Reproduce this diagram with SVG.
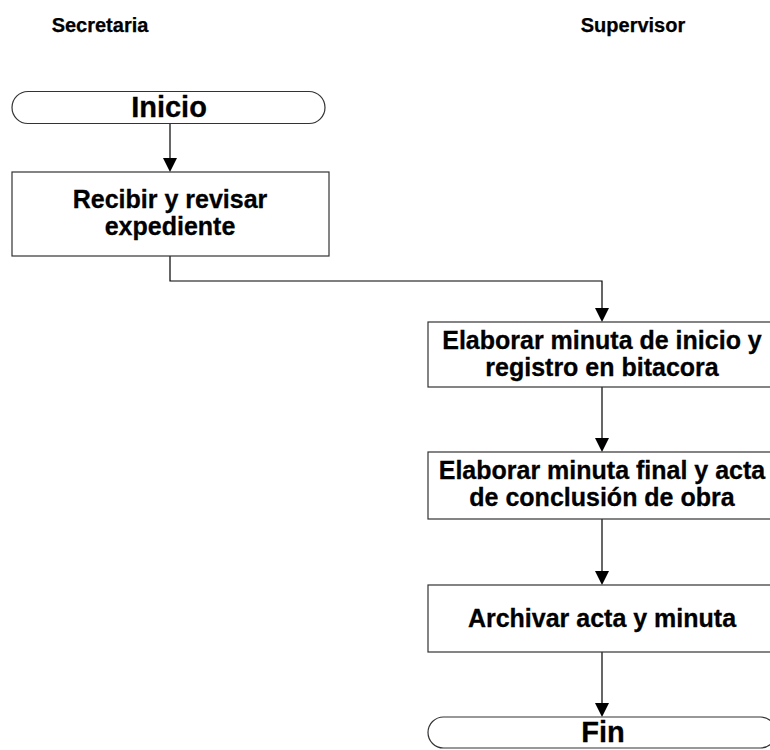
<svg xmlns="http://www.w3.org/2000/svg" width="770" height="750" viewBox="0 0 770 750">
<style>
.box{fill:#fff;stroke:#333;stroke-width:1.2}
.t{font-family:"Liberation Sans",Arial,sans-serif;font-weight:bold;font-size:25px;text-anchor:middle;fill:#000;stroke:#000;stroke-width:0.3}
.tt{font-family:"Liberation Sans",Arial,sans-serif;font-weight:bold;font-size:29px;text-anchor:middle;fill:#000;stroke:#000;stroke-width:0.3}
.h{font-family:"Liberation Sans",Arial,sans-serif;font-weight:bold;font-size:20px;text-anchor:middle;fill:#000;stroke:#000;stroke-width:0.25}
.c{fill:none;stroke:#000;stroke-width:1.2}
.a{fill:#000}
</style>
<rect width="770" height="750" fill="#fff"/>
<g id="lanes">
<text class="h" x="100" y="32">Secretaria</text>
<text class="h" x="633" y="32">Supervisor</text>
</g>
<g id="connectors">
<path class="c" d="M170,124 V158"/>
<path class="a" d="M163,158 L177,158 L170,172 Z"/>
<path class="c" d="M170,256 V281 H602 V308"/>
<path class="a" d="M595,308 L609,308 L602,322 Z"/>
<path class="c" d="M602,387 V438"/>
<path class="a" d="M595,438 L609,438 L602,452 Z"/>
<path class="c" d="M602,519 V571"/>
<path class="a" d="M595,571 L609,571 L602,585 Z"/>
<path class="c" d="M602,652 V703"/>
<path class="a" d="M595,703 L609,703 L602,717 Z"/>
</g>
<g id="inicio">
<rect class="box" x="12" y="91.5" width="313" height="32" rx="16"/>
<text class="tt" x="169" y="117">Inicio</text>
</g>
<g id="recibir">
<rect class="box" x="12" y="172" width="317" height="84"/>
<text class="t" x="170" y="208">Recibir y revisar</text>
<text class="t" x="170" y="235">expediente</text>
</g>
<g id="minuta-inicio">
<rect class="box" x="428" y="322" width="348" height="65"/>
<text class="t" x="602" y="349">Elaborar minuta de inicio y</text>
<text class="t" x="602" y="376">registro en bitacora</text>
</g>
<g id="minuta-final">
<rect class="box" x="428" y="452" width="348" height="67"/>
<text class="t" x="602" y="479">Elaborar minuta final y acta</text>
<text class="t" x="602" y="506">de conclusión de obra</text>
</g>
<g id="archivar">
<rect class="box" x="428" y="585" width="348" height="67"/>
<text class="t" x="602" y="627">Archivar acta y minuta</text>
</g>
<g id="fin">
<rect class="box" x="428" y="717" width="348" height="31" rx="15.5"/>
<text class="tt" x="603" y="742">Fin</text>
</g>
</svg>
